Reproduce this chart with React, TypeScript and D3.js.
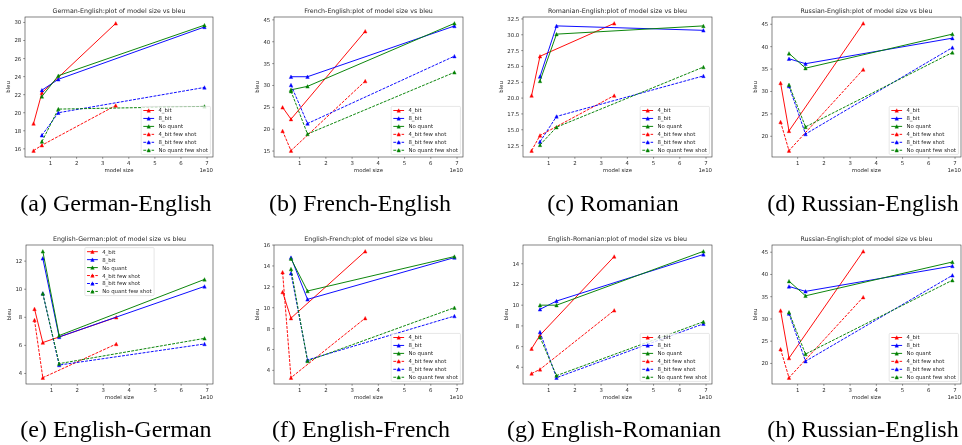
import React from "react";
import * as d3 from "d3";

// ---------- data ----------
const seriesNames = ["4_bit", "8_bit", "No quant", "4_bit few shot", "8_bit few shot", "No quant few shot"];
const seriesColors = ["#ff0000", "#0000ff", "#008000", "#ff0000", "#0000ff", "#008000"];
const seriesDashed = [false, false, false, true, true, true];
// model sizes (x in units of 1e10)
const x4bit = [0.35, 0.67, 3.5];
const xFull = [0.67, 1.3, 6.9];
const seriesX = [x4bit, xFull, xFull, x4bit, xFull, xFull];
const xTicks = [1, 2, 3, 4, 5, 6, 7];

const titles = [
  "German-English:plot of model size vs bleu",
  "French-English:plot of model size vs bleu",
  "Romanian-English:plot of model size vs bleu",
  "Russian-English:plot of model size vs bleu",
  "English-German:plot of model size vs bleu",
  "English-French:plot of model size vs bleu",
  "English-Romanian:plot of model size vs bleu",
  "Russian-English:plot of model size vs bleu",
];
const captions = [
  "(a) German-English",
  "(b) French-English",
  "(c) Romanian",
  "(d) Russian-English",
  "(e) English-German",
  "(f) English-French",
  "(g) English-Romanian",
  "(h) Russian-English",
];

// bleu values: [4_bit, 8_bit, No quant, 4_bit fs, 8_bit fs, No quant fs]
const deEn = [[18.8, 22.2, 29.9], [22.5, 23.7, 29.5], [21.8, 24.1, 29.7], [15.8, 16.4, 20.8], [17.5, 20.0, 22.8], [16.8, 20.4, 20.7]];
const frEn = [[25.0, 22.3, 42.4], [32.0, 32.0, 43.6], [29.0, 29.8, 44.2], [19.6, 15.1, 31.0], [30.1, 21.3, 36.7], [28.7, 18.9, 33.0]];
const roEn = [[20.4, 26.6, 31.8], [23.4, 31.4, 30.7], [22.7, 30.1, 31.4], [11.7, 14.1, 20.4], [13.1, 17.1, 23.5], [12.6, 15.4, 24.9]];
const ruEn = [[31.9, 21.2, 45.2], [37.3, 36.2, 41.9], [38.5, 35.2, 42.8], [23.2, 16.8, 34.9], [31.2, 20.5, 39.8], [31.5, 22.1, 38.7]];
const enDe = [[8.6, 6.2, 8.0], [12.2, 6.6, 10.2], [12.7, 6.7, 10.7], [7.8, 3.7, 6.1], [9.7, 4.6, 6.1], [9.7, 4.7, 6.5]];
const enFr = [[11.5, 9.0, 15.4], [14.8, 10.8, 14.8], [14.7, 11.6, 14.9], [13.4, 3.3, 9.0], [13.3, 5.0, 9.2], [13.7, 4.9, 10.0]];
const enRo = [[5.8, 7.1, 14.7], [9.6, 10.4, 14.9], [10.0, 10.0, 15.2], [3.4, 3.8, 9.5], [7.4, 3.0, 8.2], [6.9, 3.2, 8.4]];
const ruEn2 = [[31.9, 21.2, 45.2], [37.3, 36.2, 41.9], [38.5, 35.2, 42.8], [23.2, 16.8, 34.9], [31.2, 20.5, 39.8], [31.5, 22.1, 38.7]];
const panelData = [deEn, frEn, roEn, ruEn, enDe, enFr, enRo, ruEn2];

const yTicksA = [16, 18, 20, 22, 24, 26, 28, 30];
const yTicksB = [15, 20, 25, 30, 35, 40, 45];
const yTicksC = [12.5, 15.0, 17.5, 20.0, 22.5, 25.0, 27.5, 30.0, 32.5];
const yTicksD = [20, 25, 30, 35, 40, 45];
const yTicksE = [4, 6, 8, 10, 12];
const yTicksF = [4, 6, 8, 10, 12, 14, 16];
const yTicksG = [4, 6, 8, 10, 12, 14];
const yTicksH = [20, 25, 30, 35, 40, 45];
const panelYTicks = [yTicksA, yTicksB, yTicksC, yTicksD, yTicksE, yTicksF, yTicksG, yTicksH];
const panelYDecimals = [0, 0, 1, 0, 0, 0, 0, 0];

// ---------- layout ----------
const axesBoxes = [
  [25, 17, 213, 157],
  [274, 17, 463, 157],
  [523, 17, 712, 157],
  [772, 17, 961, 157],
  [26, 245, 213, 384],
  [274, 245, 463, 384],
  [523, 245, 712, 384],
  [772, 245, 961, 384],
];
const legendLoc = ["lr", "lr", "lr", "lr", "uc", "lr", "lr", "lr"];
const captionX = [116, 360, 613, 863, 116, 361, 614, 863];
const captionY = [211, 211, 211, 211, 437, 437, 437, 437];

const FS = 5.4;
const TITLE_FS = 6.3;
const FONT = "'DejaVu Sans', sans-serif";
const TEXT_COLOR = "#1a1a1a";

let _ctx: CanvasRenderingContext2D | null = null;
function measure(text: string, size: number): number {
  try {
    if (!_ctx) _ctx = document.createElement("canvas").getContext("2d");
    if (_ctx) {
      _ctx.font = `${size}px 'DejaVu Sans'`;
      return _ctx.measureText(text).width;
    }
  } catch (e) {}
  return text.length * size * 0.58;
}

function tri(x: number, y: number, s: number) {
  const h = s / 2;
  return `M${x},${y - h}L${x - h},${y + h}L${x + h},${y + h}Z`;
}

const MARK = 3.5;
const LINE_W = 0.95;
const DASH = "2.9,1.25";

function Panel({ idx }: { idx: number }) {
  const [l, t, r, b] = axesBoxes[idx];
  const data = panelData[idx];
  const allX = seriesX.flat();
  const allY = data.flat();
  const xmin = d3.min(allX)!, xmax = d3.max(allX)!;
  const ymin = d3.min(allY)!, ymax = d3.max(allY)!;
  const xm = (xmax - xmin) * 0.05, ym = (ymax - ymin) * 0.05;
  const xs = d3.scaleLinear().domain([xmin - xm, xmax + xm]).range([l, r]);
  const ys = d3.scaleLinear().domain([ymin - ym, ymax + ym]).range([b, t]);
  const line = d3.line<[number, number]>().x((d) => xs(d[0])).y((d) => ys(d[1]));
  const yTicks = panelYTicks[idx];
  const dec = panelYDecimals[idx];
  const fmt = (v: number) => v.toFixed(dec);
  const maxTickW = d3.max(yTicks, (v) => measure(fmt(v), FS))!;
  const ylabX = l - 1.84 - 1.84 - maxTickW - 2.1 - 2.2;

  // legend
  const pad = 0.4 * FS;
  const handleLen = 2 * FS;
  const textPad = 0.8 * FS;
  const textW = d3.max(seriesNames, (n) => measure(n, FS))!;
  const lw = pad + handleLen + textPad + textW + pad + 0.4;
  const rowStep = 7.95;
  const lh = rowStep * seriesNames.length + 0.3;
  let lx: number, ly: number;
  if (legendLoc[idx] === "lr") {
    lx = r - 2.6 - lw;
    ly = b - 2.6 - lh;
  } else {
    lx = (l + r) / 2 - lw / 2;
    ly = t + 2.6;
  }

  return (
    <g>
      {/* series */}
      {data.map((ys_, si) => {
        const pts: [number, number][] = seriesX[si].map((xv, k) => [xv, ys_[k]]);
        return (
          <g key={si}>
            <path
              d={line(pts) || ""}
              fill="none"
              stroke={seriesColors[si]}
              strokeWidth={LINE_W}
              strokeDasharray={seriesDashed[si] ? DASH : undefined}
            />
            {pts.map((p, k) => (
              <path key={k} d={tri(xs(p[0]), ys(p[1]), MARK)} fill={seriesColors[si]} stroke={seriesColors[si]} strokeWidth={0.4} />
            ))}
          </g>
        );
      })}
      {/* spines */}
      <rect x={l} y={t} width={r - l} height={b - t} fill="none" stroke="#333" strokeWidth={0.6} />
      {/* x ticks */}
      {xTicks.map((v) => (
        <line key={"xt" + v} x1={xs(v)} x2={xs(v)} y1={b} y2={b + 1.84} stroke="#333" strokeWidth={0.5} />
      ))}
      {yTicks.map((v) => (
        <line key={"yt" + v} x1={l - 1.84} x2={l} y1={ys(v)} y2={ys(v)} stroke="#333" strokeWidth={0.5} />
      ))}
      {/* legend box and handles */}
      <rect x={lx} y={ly} width={lw} height={lh} rx={1} fill="#fff" fillOpacity={0.8} stroke="#ccc" strokeWidth={0.5} />
      {seriesNames.map((n, i) => {
        const cy = ly + 4.1 + i * rowStep;
        const hx = lx + pad;
        return (
          <g key={n}>
            <line
              x1={hx}
              x2={hx + handleLen}
              y1={cy}
              y2={cy}
              stroke={seriesColors[i]}
              strokeWidth={LINE_W}
              strokeDasharray={seriesDashed[i] ? DASH : undefined}
            />
            <path d={tri(hx + handleLen / 2, cy, MARK)} fill={seriesColors[i]} stroke={seriesColors[i]} strokeWidth={0.4} />
          </g>
        );
      })}
      {/* all texts (grayscale antialias) */}
      <g fontFamily={FONT} fill={TEXT_COLOR} fillOpacity={0.98} opacity={0.99}>
        <text x={(l + r) / 2} y={t - 3.6} fontSize={TITLE_FS} textAnchor="middle">
          {titles[idx]}
        </text>
        {xTicks.map((v) => (
          <text key={"x" + v} x={xs(v)} y={b + 3.7 + 4.0} fontSize={FS} textAnchor="middle">
            {v}
          </text>
        ))}
        {yTicks.map((v) => (
          <text key={"y" + v} x={l - 3.7} y={ys(v) + 1.95} fontSize={FS} textAnchor="end">
            {fmt(v)}
          </text>
        ))}
        <text x={(l + r) / 2} y={b + 15} fontSize={FS} textAnchor="middle">
          model size
        </text>
        <text x={r} y={b + 14.6} fontSize={FS} textAnchor="end">
          1e10
        </text>
        <text transform={`translate(${ylabX},${(t + b) / 2}) rotate(-90)`} fontSize={FS} textAnchor="middle">
          bleu
        </text>
        {seriesNames.map((n, i) => {
          const cy = ly + 4.1 + i * rowStep;
          const hx = lx + pad;
          return (
            <text key={"lt" + n} x={hx + handleLen + textPad} y={cy + 1.95} fontSize={FS}>
              {n}
            </text>
          );
        })}
      </g>
    </g>
  );
}

export default function App() {
  return (
    <svg
      width={962}
      height={445}
      viewBox="0 0 962 445"
      style={{ position: "absolute", left: 0, top: 0, display: "block", background: "#fff", willChange: "transform" }}
    >
      <rect x={0} y={0} width={962} height={445} fill="#fff" />
      {axesBoxes.map((_, i) => (
        <Panel key={i} idx={i} />
      ))}
      <g opacity={0.995}>
        {captions.map((c, i) => (
          <text
            key={c + i}
            x={captionX[i]}
            y={captionY[i]}
            fontSize={24}
            textAnchor="middle"
            fill="#000"
            fontFamily="'Liberation Serif', 'Times New Roman', serif"
          >
            {c}
          </text>
        ))}
      </g>
    </svg>
  );
}
